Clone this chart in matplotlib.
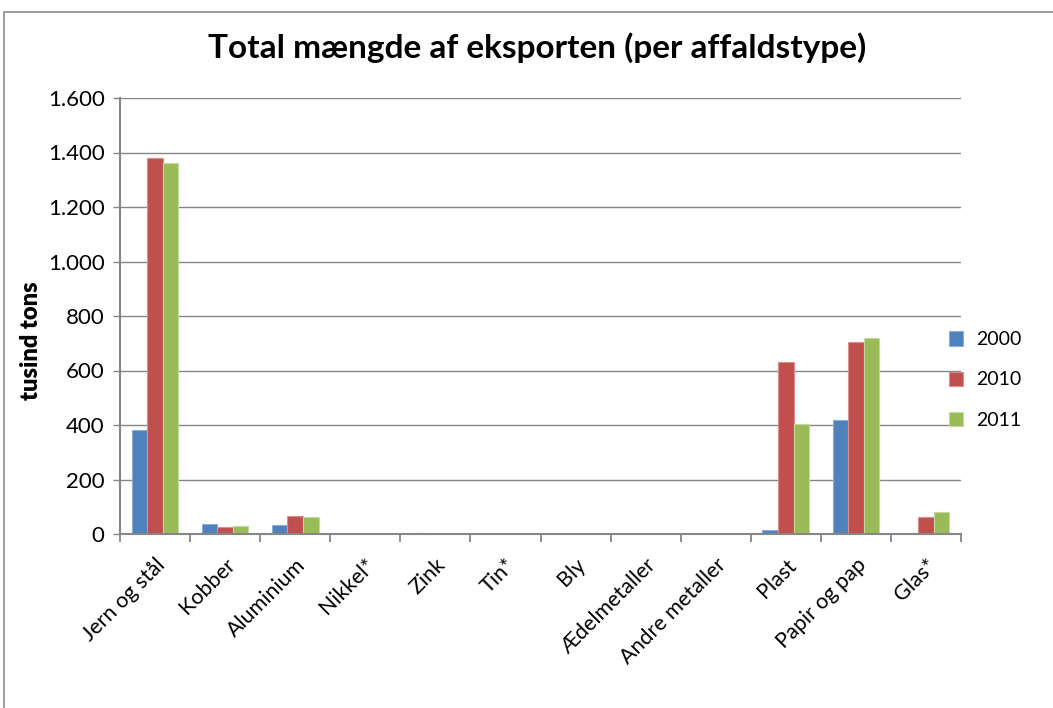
import matplotlib
matplotlib.use("Agg")
from matplotlib import pyplot as plt
from matplotlib.patches import Rectangle
from matplotlib.ticker import FuncFormatter, FixedLocator
import numpy as np

# export per waste type, thousand tons
categories = ["Jern og stål", "Kobber", "Aluminium", "Nikkel*", "Zink", "Tin*",
              "Bly", "Ædelmetaller", "Andre metaller", "Plast", "Papir og pap", "Glas*"]
years = ["2000", "2010", "2011"]
v2000 = [383, 38, 34, 0, 5, 0, 0, 0, 0, 16, 419, 0]
v2010 = [1378, 26, 67, 0, 0, 0, 0, 0, 0, 632, 703, 62]
v2011 = [1362, 30, 63, 0, 0, 0, 0, 0, 0, 404, 718, 80]
colors = ["#4F81BD", "#C0504D", "#9BBB59"]
edges = ["#8EADD6", "#DA8F8D", "#C5D99E"]

plt.rcParams['font.family'] = ['Lato', 'DejaVu Sans']

fig = plt.figure(figsize=(10.53, 7.08), dpi=100)
W, H = 1053, 708
ax = fig.add_axes([120 / W, (H - 534) / H, (961 - 120) / W, (534 - 98) / H])

x = np.arange(len(categories))
bw = 1 / 4.5
for i, vals in enumerate([v2000, v2010, v2011]):
    ax.bar(x + (i - 1) * bw, vals, width=bw, color=colors[i], edgecolor=edges[i],
           linewidth=0.8, label=years[i], zorder=3)

ax.set_xlim(-0.5, len(categories) - 0.5)
ax.set_ylim(0, 1600)
ax.set_yticks(range(0, 1601, 200))
ax.yaxis.set_major_formatter(FuncFormatter(lambda v, p: "{:,.0f}".format(v).replace(",", ".")))
ax.grid(axis="y", color="#868686", linewidth=1, zorder=0)

# category labels at centers, ticks at boundaries
ax.set_xticks(x)
ax.set_xticklabels(categories, rotation=45, ha="right", va="top", rotation_mode="anchor", fontsize=15.5)
ax.tick_params(axis="x", length=0, pad=15)
ax.xaxis.set_minor_locator(FixedLocator(np.arange(-0.5, len(categories), 1)))
ax.tick_params(axis="x", which="minor", length=6, color="#868686", width=1.3)
ax.tick_params(axis="y", length=5, color="#868686", width=1, labelsize=16, pad=6)

for s in ["top", "right"]:
    ax.spines[s].set_visible(False)
for s in ["left", "bottom"]:
    ax.spines[s].set_color("#868686")
    ax.spines[s].set_linewidth(1.5)
    ax.spines[s].set_zorder(4)

ax.set_ylabel("tusind tons", fontsize=17, fontweight="heavy")
ax.yaxis.set_label_coords(-0.093, 0.443)
fig.text(537 / W, (H - 48) / H, "Total mængde af eksporten (per affaldstype)",
         ha="center", va="center", fontsize=24, fontweight="bold")

ax.legend(loc="center left", bbox_to_anchor=(931 / W, (H - 380) / H), bbox_transform=fig.transFigure,
          frameon=False, fontsize=14, handlelength=0.75, handleheight=0.75, labelspacing=1.2,
          handletextpad=0.65)

# chart border
fig.patches.append(Rectangle((4 / W, -0.05), 1.1, (H - 12) / H + 0.05, transform=fig.transFigure,
                             fill=False, edgecolor="#8C8C8C", linewidth=1.2))

fig.savefig("out.png", dpi=100)
